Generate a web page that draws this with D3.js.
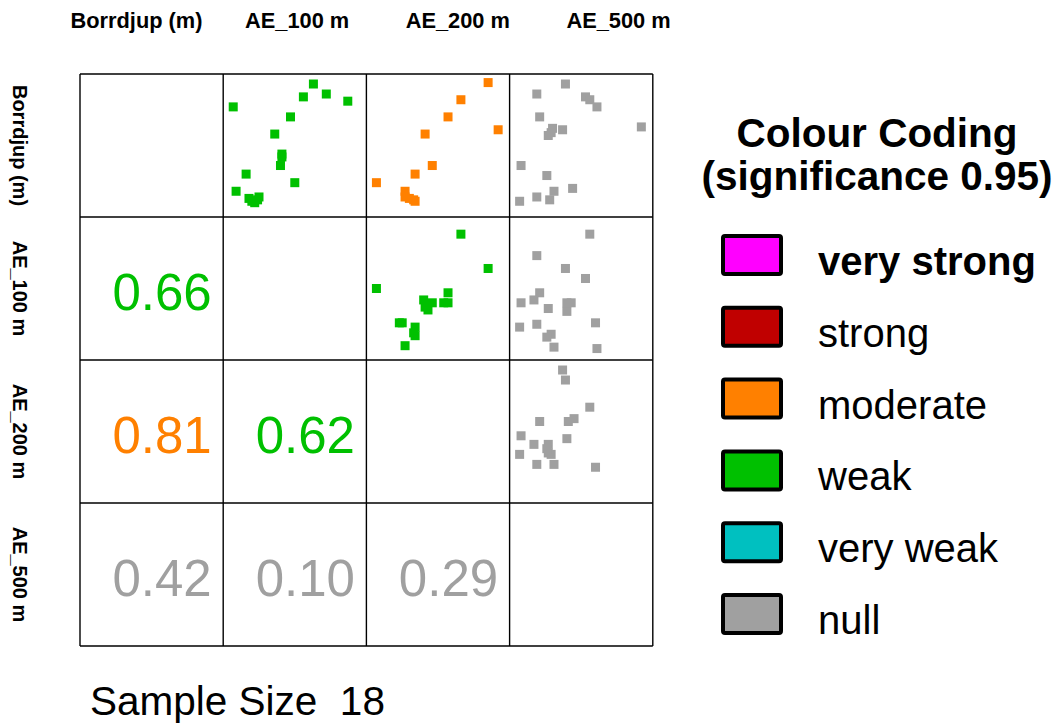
<!DOCTYPE html>
<html>
<head>
<meta charset="utf-8">
<script src="https://cdn.jsdelivr.net/npm/d3@7"></script>
<style>
  html, body { margin: 0; padding: 0; background: #ffffff; }
  svg { display: block; font-family: "Liberation Sans", Arial, Helvetica, sans-serif; }
</style>
</head>
<body>
<svg id="chart" width="1059" height="725"></svg>
<script>
// ---------------- data ----------------
const variables = ["Borrdjup (m)", "AE_100 m", "AE_200 m", "AE_500 m"];
const sampleSize = 18;

// lower-triangle correlation coefficients: [row, col]
const corrRows   = [1, 2, 2, 3, 3, 3];
const corrCols   = [0, 0, 1, 0, 1, 2];
const corrValues = [0.66, 0.81, 0.62, 0.42, 0.10, 0.29];
const corrClass  = ["weak", "moderate", "weak", "null", "null", "null"];

// legend classes and colours
const classNames  = ["very strong", "strong", "moderate", "weak", "very weak", "null"];
const classColors = ["#FF00FF", "#C00000", "#FF8000", "#00C000", "#00C0C0", "#A0A0A0"];
const legendTitle = ["Colour Coding", "(significance 0.95)"];

// upper-triangle scatter panels (normalised values, 0..1 of each variable's range)
// panel row 0 col 1 : x = AE_100 m, y = Borrdjup (m)
const p01x = [0.07,0.63,0.56,0.72,0.87,0.47,0.36,0.41,0.40,0.16,0.50,0.09,0.18,0.25,0.22,0.20,0.24,0.41];
const p01y = [0.77,0.93,0.84,0.86,0.81,0.70,0.58,0.44,0.36,0.30,0.24,0.18,0.13,0.14,0.10,0.11,0.12,0.42];
// panel row 0 col 2 : x = AE_200 m, y = Borrdjup (m)
const p02x = [0.85,0.66,0.57,0.92,0.41,0.46,0.34,0.07,0.27,0.27,0.33,0.30,0.34];
const p02y = [0.94,0.82,0.70,0.61,0.58,0.36,0.30,0.24,0.18,0.14,0.12,0.13,0.11];
// panel row 0 col 3 : x = AE_500 m, y = Borrdjup (m)
const p03x = [0.39,0.19,0.53,0.56,0.61,0.21,0.30,0.37,0.27,0.92,0.08,0.26,0.44,0.31,0.19,0.28,0.07,0.29];
const p03y = [0.93,0.86,0.84,0.82,0.77,0.70,0.62,0.61,0.57,0.63,0.36,0.29,0.20,0.18,0.14,0.12,0.11,0.59];
// panel row 1 col 2 : x = AE_200 m, y = AE_100 m
const p12x = [0.66,0.85,0.07,0.57,0.57,0.40,0.46,0.43,0.25,0.34,0.34,0.27,0.54,0.41,0.23,0.33];
const p12y = [0.88,0.64,0.50,0.47,0.40,0.42,0.40,0.35,0.26,0.23,0.17,0.10,0.40,0.37,0.26,0.19];
// panel row 1 col 3 : x = AE_500 m, y = AE_100 m
const p13x = [0.56,0.19,0.39,0.53,0.21,0.08,0.17,0.27,0.43,0.40,0.60,0.19,0.07,0.29,0.26,0.31,0.61,0.40];
const p13y = [0.88,0.73,0.64,0.57,0.47,0.40,0.42,0.36,0.40,0.34,0.26,0.25,0.23,0.18,0.16,0.09,0.08,0.40];
// panel row 2 col 3 : x = AE_500 m, y = AE_200 m
const p23x = [0.37,0.39,0.56,0.21,0.41,0.45,0.08,0.17,0.27,0.40,0.07,0.27,0.29,0.19,0.31,0.60,0.26];
const p23y = [0.93,0.86,0.67,0.57,0.57,0.59,0.47,0.41,0.41,0.45,0.34,0.35,0.34,0.27,0.27,0.25,0.38];

const panels = [
  { row: 0, col: 1, xs: p01x, ys: p01y, cls: "weak" },
  { row: 0, col: 2, xs: p02x, ys: p02y, cls: "moderate" },
  { row: 0, col: 3, xs: p03x, ys: p03y, cls: "null" },
  { row: 1, col: 2, xs: p12x, ys: p12y, cls: "weak" },
  { row: 1, col: 3, xs: p13x, ys: p13y, cls: "null" },
  { row: 2, col: 3, xs: p23x, ys: p23y, cls: "null" }
];

// ---------------- layout ----------------
const svg = d3.select("#chart");
const gridLeft = 80, gridTop = 74, cellW = 143.2, cellH = 143;
const n = variables.length;

const colScale = d3.scaleBand().domain(d3.range(n)).range([gridLeft, gridLeft + n * cellW]).padding(0);
const rowScale = d3.scaleBand().domain(d3.range(n)).range([gridTop, gridTop + n * cellH]).padding(0);
const colorOf = d3.scaleOrdinal().domain(classNames).range(classColors);

// header labels (top)
const headScale = d3.scalePoint().domain(variables).range([136.5, 618.5]);
svg.append("g").selectAll("text").data(variables).join("text")
  .attr("x", d => headScale(d))
  .attr("y", 28)
  .attr("text-anchor", "middle")
  .attr("font-weight", "bold")
  .attr("font-size", 21.8)
  .attr("fill", "#000")
  .text(d => d);

// side labels (left, rotated)
svg.append("g").selectAll("text").data(variables).join("text")
  .attr("transform", (d, i) => `translate(13,${rowScale(i) + cellH / 2}) rotate(90)`)
  .attr("text-anchor", "middle")
  .attr("font-weight", "bold")
  .attr("font-size", 20)
  .attr("fill", "#000")
  .text(d => d);

// scatter panels
const markSize = 9;
panels.forEach(p => {
  const x0 = colScale(p.col), y0 = rowScale(p.row);
  const xs = d3.scaleLinear().domain([0, 1]).range([x0, x0 + cellW]);
  const ys = d3.scaleLinear().domain([0, 1]).range([y0 + cellH, y0]);
  const pts = p.xs.map((v, i) => [v, p.ys[i]]);
  svg.append("g").selectAll("rect").data(pts).join("rect")
    .attr("x", d => xs(d[0]) - markSize / 2)
    .attr("y", d => ys(d[1]) - markSize / 2)
    .attr("width", markSize)
    .attr("height", markSize)
    .attr("fill", colorOf(p.cls));
});

// correlation numbers
svg.append("g").selectAll("text").data(corrValues).join("text")
  .attr("x", (d, i) => colScale(corrCols[i]) + cellW / 2 + 10.5)
  .attr("y", (d, i) => rowScale(corrRows[i]) + cellH / 2 + 21)
  .attr("text-anchor", "middle")
  .attr("font-size", 51)
  .attr("fill", (d, i) => colorOf(corrClass[i]))
  .text(d => d3.format(".2f")(d));

// grid lines
const gridG = svg.append("g").attr("stroke", "#000").attr("stroke-width", 1.4).attr("fill", "none");
d3.range(n + 1).forEach(i => {
  const x = gridLeft + i * cellW;
  gridG.append("line").attr("x1", x).attr("x2", x).attr("y1", gridTop).attr("y2", gridTop + n * cellH);
  const y = gridTop + i * cellH;
  gridG.append("line").attr("x1", gridLeft).attr("x2", gridLeft + n * cellW).attr("y1", y).attr("y2", y);
});

// sample size
svg.append("text")
  .attr("x", 90)
  .attr("y", 715)
  .attr("font-size", 40.5)
  .attr("fill", "#000")
  .style("white-space", "pre")
  .text("Sample Size  " + sampleSize);

// legend
const legend = svg.append("g");
legend.selectAll("text.title").data(legendTitle).join("text")
  .attr("class", "title")
  .attr("x", 877)
  .attr("y", (d, i) => 147 + i * 43)
  .attr("text-anchor", "middle")
  .attr("font-weight", "bold")
  .attr("font-size", 40.5)
  .attr("fill", "#000")
  .text(d => d);

const legY = d3.scalePoint().domain(classNames).range([236, 236 + 5 * 71.8]);
legend.selectAll("rect").data(classNames).join("rect")
  .attr("x", 723)
  .attr("y", d => legY(d))
  .attr("width", 58)
  .attr("height", 38)
  .attr("rx", 2)
  .attr("fill", d => colorOf(d))
  .attr("stroke", "#000")
  .attr("stroke-width", 4);

legend.selectAll("text.item").data(classNames).join("text")
  .attr("class", "item")
  .attr("x", 818)
  .attr("y", d => legY(d) + 39)
  .attr("font-size", 40)
  .attr("font-weight", (d, i) => i === 0 ? "bold" : "normal")
  .attr("fill", "#000")
  .text(d => d);
</script>
</body>
</html>
